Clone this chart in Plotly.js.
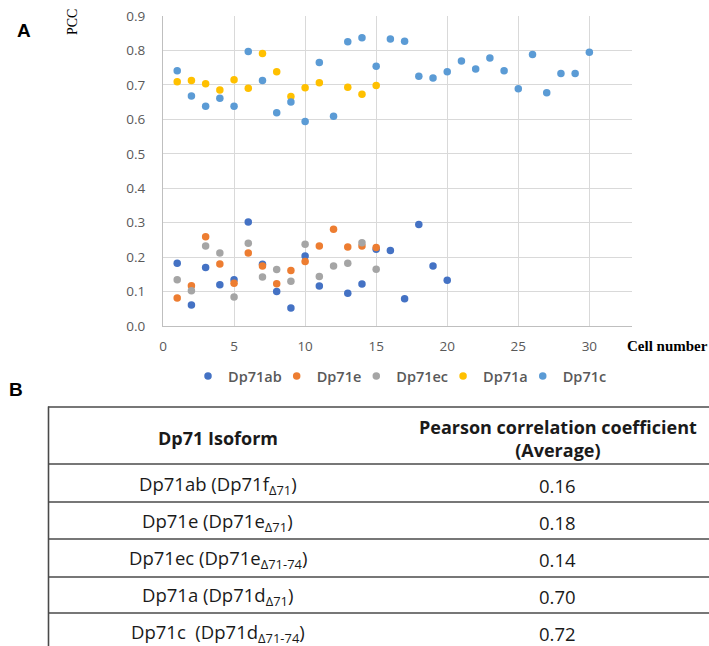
<!DOCTYPE html>
<html>
<head>
<meta charset="utf-8">
<script src="https://cdn.plot.ly/plotly-3.0.1.min.js"></script>
<style>html,body{margin:0;padding:0;background:#fff;}#chart{width:709px;height:646px;}</style>
</head>
<body>
<div id="chart"></div>
<script>
// ---- Data ----
const seriesNames = ['Dp71ab', 'Dp71e', 'Dp71ec', 'Dp71a', 'Dp71c'];
const seriesColors = ['#4472C4', '#ED7D31', '#A5A5A5', '#FFC000', '#5B9BD5'];

const dp71abCells = [1,2,3,4,5,6,7,8,9,10,11,13,14,15,16,17,18,19,20];
const dp71abPCC   = [0.182,0.061,0.170,0.120,0.134,0.302,0.179,0.100,0.052,0.203,0.116,0.095,0.122,0.223,0.219,0.079,0.295,0.174,0.133];

const dp71eCells = [1,2,3,4,5,6,7,8,9,10,11,12,13,14,15];
const dp71ePCC   = [0.081,0.117,0.259,0.180,0.124,0.212,0.174,0.123,0.161,0.187,0.232,0.281,0.229,0.232,0.228];

const dp71ecCells = [1,2,3,4,5,6,7,8,9,10,11,12,13,14,15];
const dp71ecPCC   = [0.134,0.102,0.232,0.212,0.084,0.240,0.142,0.164,0.130,0.237,0.144,0.174,0.182,0.242,0.165];

const dp71aCells = [1,2,3,4,5,6,7,8,9,10,11,13,14,15];
const dp71aPCC   = [0.709,0.713,0.703,0.685,0.715,0.690,0.791,0.738,0.666,0.692,0.706,0.693,0.673,0.698];

const dp71cCells = [1,2,3,4,5,6,7,8,9,10,11,12,13,14,15,16,17,18,19,20,21,22,23,24,25,26,27,28,29,30];
const dp71cPCC   = [0.741,0.668,0.638,0.661,0.638,0.797,0.713,0.619,0.650,0.594,0.765,0.609,0.825,0.837,0.754,0.833,0.827,0.725,0.720,0.738,0.769,0.746,0.778,0.741,0.689,0.788,0.677,0.733,0.733,0.795];

const tableHeaders = ['<b>Dp71 Isoform</b>', '<b>Pearson correlation coefficient</b><br><b>(Average)</b>'];
const tableIsoforms = [
  'Dp71ab (Dp71f<sub>Δ71</sub>)',
  'Dp71e (Dp71e<sub>Δ71</sub>)',
  'Dp71ec (Dp71e<sub>Δ71-74</sub>)',
  'Dp71a (Dp71d<sub>Δ71</sub>)',
  'Dp71c\u00a0 (Dp71d<sub>Δ71-74</sub>)'
];
const tableAverages = ['0.16', '0.18', '0.14', '0.70', '0.72'];

// ---- Layout geometry ----
const W = 709, H = 646;
const M = {l: 163, r: 77, t: 16, b: 320};
const px2x = p => (p - M.l) / (W - M.l - M.r);
const py2y = p => (H - M.b - p) / (H - M.t - M.b);

const xs = [dp71abCells, dp71eCells, dp71ecCells, dp71aCells, dp71cCells];
const ys = [dp71abPCC, dp71ePCC, dp71ecPCC, dp71aPCC, dp71cPCC];

const traces = seriesNames.map((name, i) => ({
  type: 'scatter', mode: 'markers', name: name,
  x: xs[i], y: ys[i],
  marker: {color: seriesColors[i], size: 7.5, line: {width: 0}},
  cliponaxis: false
}));

const tickFont = {family: 'Open Sans, sans-serif', size: 13.5, color: '#595959'};

const annotations = [
  {text: '<b>A</b>', x: px2x(24), y: py2y(30), xref: 'paper', yref: 'paper', showarrow: false,
   font: {family: 'Liberation Sans, Arial, sans-serif', size: 19, color: '#000'}, xanchor: 'center', yanchor: 'middle'},
  {text: 'PCC', x: px2x(72), y: py2y(22), xref: 'paper', yref: 'paper', showarrow: false, textangle: -90,
   font: {family: 'Liberation Serif, Times New Roman, serif', size: 14, color: '#000'}, xanchor: 'center', yanchor: 'middle'},
  {text: '<b>Cell number</b>', x: px2x(667), y: py2y(346), xref: 'paper', yref: 'paper', showarrow: false,
   font: {family: 'Liberation Serif, Times New Roman, serif', size: 15, color: '#000'}, xanchor: 'center', yanchor: 'middle'},
  {text: '<b>B</b>', x: px2x(16), y: py2y(389), xref: 'paper', yref: 'paper', showarrow: false,
   font: {family: 'Liberation Sans, Arial, sans-serif', size: 19, color: '#000'}, xanchor: 'center', yanchor: 'middle'}
];

// table
const colCenters = [217.5, 557.5];
const headerY = 438;
const rowLines = [407, 464, 502, 539, 577, 613];
const rowCenters = [485, 522, 559, 596, 633];
const tableFont = {family: 'Open Sans, sans-serif', size: 18.5, color: '#1a1a1a'};

tableHeaders.forEach((t, i) => annotations.push({
  text: t, x: px2x(colCenters[i]), y: py2y(headerY), xref: 'paper', yref: 'paper', showarrow: false,
  font: {family: 'Open Sans, sans-serif', size: 18, color: '#1a1a1a'}, xanchor: 'center', yanchor: 'middle'
}));
tableIsoforms.forEach((t, i) => annotations.push({
  text: t, x: px2x(colCenters[0]), y: py2y(rowCenters[i]), xref: 'paper', yref: 'paper', showarrow: false,
  font: tableFont, xanchor: 'center', yanchor: 'middle'
}));
tableAverages.forEach((t, i) => annotations.push({
  text: t, x: px2x(colCenters[1]), y: py2y(rowCenters[i]), xref: 'paper', yref: 'paper', showarrow: false,
  font: tableFont, xanchor: 'center', yanchor: 'middle'
}));

const shapes = rowLines.map(p => ({
  type: 'line', xref: 'paper', yref: 'paper', x0: px2x(48), x1: px2x(709), y0: py2y(p), y1: py2y(p),
  line: {color: '#4a4a4a', width: 1.6}
}));
shapes.push({type: 'line', xref: 'paper', yref: 'paper', x0: px2x(48.5), x1: px2x(48.5), y0: py2y(406.5), y1: py2y(646),
  line: {color: '#4a4a4a', width: 1.6}});

const layout = {
  width: W, height: H,
  margin: M,
  paper_bgcolor: '#fff', plot_bgcolor: '#fff',
  showlegend: true,
  legend: {orientation: 'h', x: px2x(405), xanchor: 'center', y: py2y(376), yanchor: 'middle',
    font: {family: 'Open Sans, sans-serif', size: 14.5, color: '#595959', weight: 600},
    itemwidth: 30, indentation: -10, tracegroupgap: 0, bgcolor: 'rgba(0,0,0,0)'},
  xaxis: {range: [0, 33], tick0: 0, dtick: 5, showgrid: true, gridcolor: '#D9D9D9', gridwidth: 1,
    zeroline: false, showline: true, linecolor: '#BFBFBF', linewidth: 1, ticks: '',
    tickfont: tickFont, ticklabelstandoff: 8, fixedrange: true},
  yaxis: {range: [0, 0.9], tick0: 0, dtick: 0.1, tickformat: '.1f', showgrid: true, gridcolor: '#D9D9D9', gridwidth: 1,
    zeroline: false, showline: true, linecolor: '#BFBFBF', linewidth: 1, ticks: '',
    tickfont: tickFont, ticklabelstandoff: 14, fixedrange: true},
  annotations: annotations,
  shapes: shapes
};

Plotly.newPlot('chart', traces, layout, {displayModeBar: false, staticPlot: true});
</script>
</body>
</html>
